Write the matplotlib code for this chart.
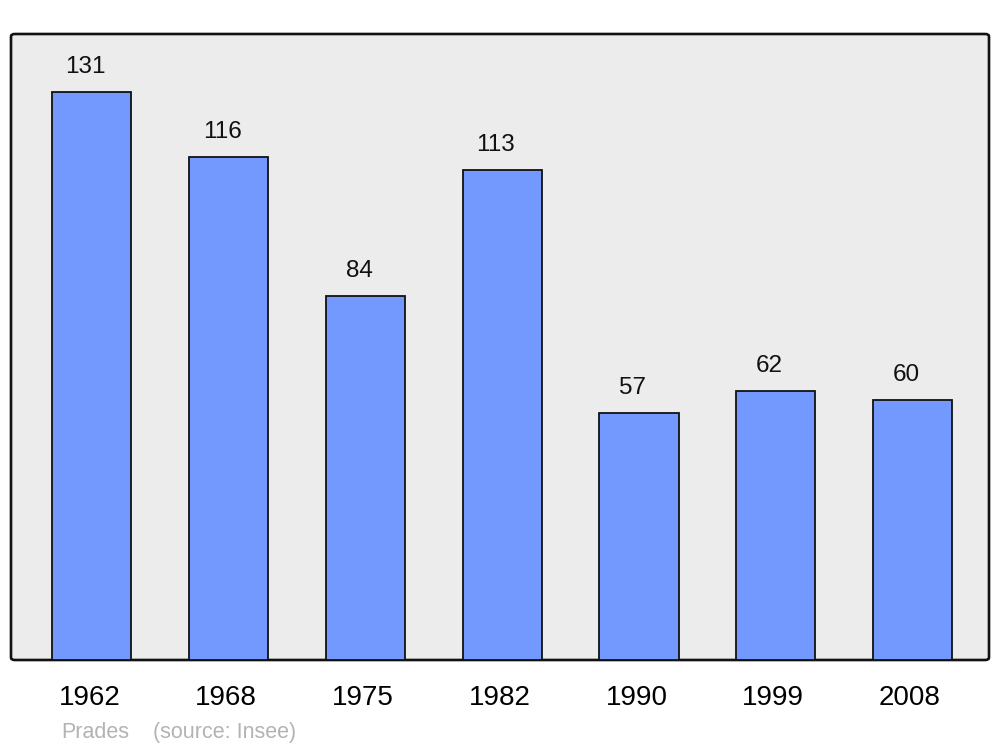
import matplotlib
matplotlib.use("Agg")
import matplotlib.pyplot as plt
from matplotlib.patches import FancyBboxPatch
from matplotlib.transforms import offset_copy, blended_transform_factory

years = ["1962", "1968", "1975", "1982", "1990", "1999", "2008"]
population = [131, 116, 84, 113, 57, 62, 60]
place = "Prades"
source = "(source: Insee)"

plt.rcParams['font.family'] = ['Liberation Sans', 'DejaVu Sans']

fig = plt.figure(figsize=(10, 7.47), dpi=100)
ax = fig.add_axes([11/1000, (747-660)/747, 978/1000, 626/747])
ax.set_facecolor('none')

# rounded background frame
frame = FancyBboxPatch((0, 0), 1, 1, boxstyle="round,pad=0,rounding_size=0.004",
                       transform=ax.transAxes, facecolor='#ececec', edgecolor='#111111',
                       linewidth=1.9, zorder=0, clip_on=False)
ax.add_patch(frame)

x = list(range(len(years)))
ax.bar(x, population, width=0.578, color='#7399ff', edgecolor='#111111',
       linewidth=1.3, zorder=2)

ax.set_xlim(-0.592, 6.559)
ax.set_ylim(0, 144.4)
ax.set_xticks([])
ax.set_yticks([])
for s in ax.spines.values():
    s.set_visible(False)

lab_tr = offset_copy(ax.transData, fig=fig, x=-6.5, y=19, units='dots')
for xi, v in zip(x, population):
    ax.text(xi, v, str(v), transform=lab_tr, ha='center', va='baseline',
            fontsize=17.5, color='#111111', zorder=3)

bt = blended_transform_factory(ax.transData, fig.transFigure)
tick_tr = offset_copy(bt, fig=fig, x=-2.5, y=0, units='dots')
for xi, y in zip(x, years):
    ax.text(xi, (747-705)/747, y, transform=tick_tr, ha='center', va='baseline',
            fontsize=20, color='black', clip_on=False)

fig.text(61/1000, (747-738)/747, place, ha='left', va='baseline', fontsize=15.5, color='#b3b3b3')
fig.text(153/1000, (747-738)/747, source, ha='left', va='baseline', fontsize=15.5, color='#b3b3b3')

fig.savefig('out.png', dpi=100, facecolor='white')
